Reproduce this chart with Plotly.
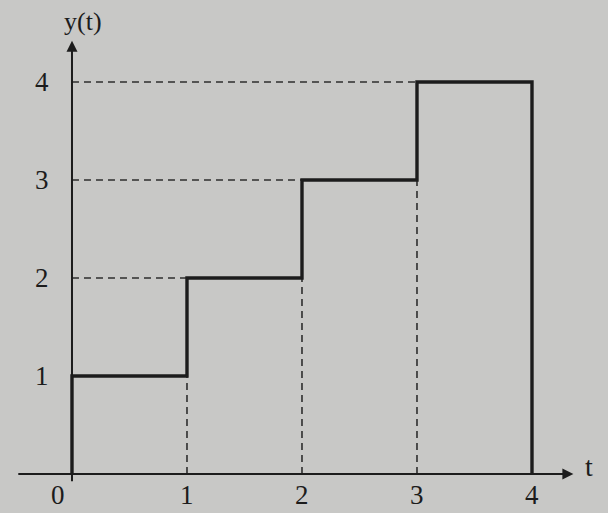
import plotly.graph_objects as go

# step function y(t): level k on [k-1, k), falls to 0 at t=4
t_edges = [0, 1, 2, 3, 4]
levels = [1, 2, 3, 4]
x_tick_labels = ["0", "1", "2", "3", "4"]
y_tick_labels = ["1", "2", "3", "4"]

bg = "#c8c8c6"
ink = "#1c1c1c"
serif = "Liberation Serif, DejaVu Serif, serif"

# staircase outline
sx, sy = [t_edges[0]], [0]
for i, lv in enumerate(levels):
    sx += [t_edges[i], t_edges[i + 1]]
    sy += [lv, lv]
sx.append(t_edges[-1])
sy.append(0)

fig = go.Figure()

# dashed guides
for i in range(1, len(levels)):
    lv = levels[i]
    fig.add_trace(go.Scatter(x=[0, t_edges[i]], y=[lv, lv], mode="lines",
                             line=dict(color="#2e2e2e", width=1.6, dash="7px,5px"),
                             showlegend=False, hoverinfo="skip"))
    fig.add_trace(go.Scatter(x=[t_edges[i], t_edges[i]], y=[0, levels[i - 1]], mode="lines",
                             line=dict(color="#2e2e2e", width=1.6, dash="7px,5px"),
                             showlegend=False, hoverinfo="skip"))

fig.add_trace(go.Scatter(x=sx, y=sy, mode="lines",
                         line=dict(color=ink, width=3.4),
                         showlegend=False, hoverinfo="skip"))

# axes with arrows
fig.add_annotation(x=4.36, y=0, ax=-0.48, ay=0, xref="x", yref="y", axref="x", ayref="y",
                   text="", showarrow=True, arrowhead=2, arrowsize=1.1, arrowwidth=2,
                   arrowcolor=ink)
fig.add_annotation(x=0, y=4.42, ax=0, ay=-0.09, xref="x", yref="y", axref="x", ayref="y",
                   text="", showarrow=True, arrowhead=2, arrowsize=1.1, arrowwidth=2,
                   arrowcolor=ink)

# tick labels
for t, lab in zip(t_edges, x_tick_labels):
    fig.add_annotation(x=t - (0.12 if t == 0 else 0), y=-0.21, text=lab, showarrow=False,
                       font=dict(family=serif, size=27, color=ink))
for lv, lab in zip(levels, y_tick_labels):
    fig.add_annotation(x=-0.26, y=lv, text=lab, showarrow=False,
                       font=dict(family=serif, size=27, color=ink))

fig.add_annotation(x=0.1, y=4.62, text="y(t)", showarrow=False,
                   font=dict(family=serif, size=26, color=ink))
fig.add_annotation(x=4.5, y=0.08, text="t", showarrow=False,
                   font=dict(family=serif, size=28, color=ink))

fig.update_xaxes(range=[-0.626, 4.661], visible=False, fixedrange=True)
fig.update_yaxes(range=[-0.398, 4.837], visible=False, fixedrange=True)
fig.update_layout(width=608, height=513, margin=dict(l=0, r=0, t=0, b=0),
                  paper_bgcolor=bg, plot_bgcolor=bg)

fig.write_html("out.html", config={"displayModeBar": False},
               post_script="document.body.style.margin='0';"
                           "document.body.style.background='%s';" % bg)
